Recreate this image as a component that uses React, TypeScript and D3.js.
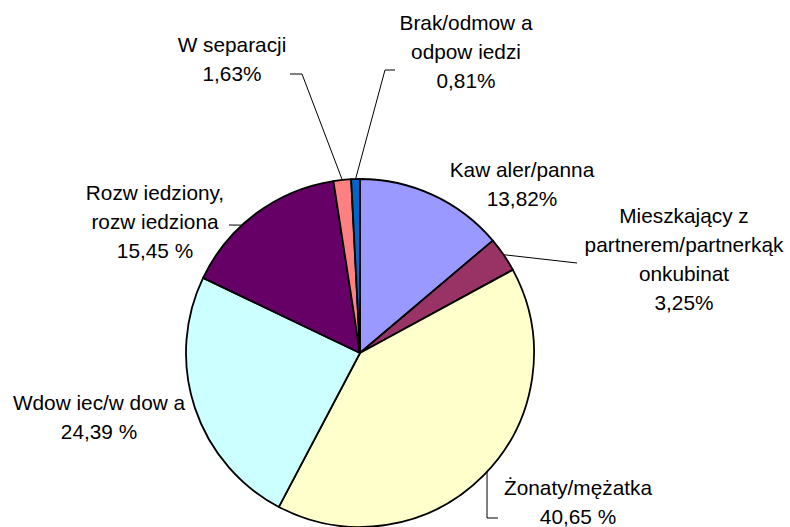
import React from 'react';
import * as d3 from 'd3';

const width = 790;
const height = 527;

// data ================================================
const categories = [
  'Kawaler/panna',
  'Mieszkający z partnerem/partnerką konkubinat',
  'Żonaty/mężatka',
  'Wdowiec/wdowa',
  'Rozwiedziony, rozwiedziona',
  'W separacji',
  'Brak/odmowa odpowiedzi'
];
const values = [13.82, 3.25, 40.65, 24.39, 15.45, 1.63, 0.81];
const colors = ['#9999FF', '#993366', '#FFFFCC', '#CCFFFF', '#660066', '#FF8080', '#0066CC'];
// label text as shown on the picture
const labelLines = [
  ['Kaw aler/panna', '13,82%'],
  ['Mieszkający z', 'partnerem/partnerkąk', 'onkubinat', '3,25%'],
  ['Żonaty/mężatka', '40,65 %'],
  ['Wdow iec/w dow a', '24,39 %'],
  ['Rozw iedziony,', 'rozw iedziona', '15,45 %'],
  ['W separacji', '1,63%'],
  ['Brak/odmow a', 'odpow iedzi', '0,81%']
];

// layout ==============================================
const cx = 360;
const cy = 353;
const radius = 174;
const lineHeight = 29;

// first baseline of each label (centred)
const labelPos: [number, number][] = [
  [522, 177],
  [684, 223],
  [578, 495],
  [99, 410],
  [155, 200],
  [232, 52],
  [466, 30]
];

// leader lines: where they touch the pie (degrees, null = slice middle) and the bends after it
const leaders: ({ angle: number | null; points: [number, number][] } | null)[] = [
  null,
  { angle: null, points: [[577, 263]] },
  { angle: 133.1, points: [[487, 518], [498, 518]] },
  null,
  { angle: 317.3, points: [[229, 225]] },
  { angle: null, points: [[302, 74], [290, 74]] },
  { angle: null, points: [[385, 70], [395, 70]] }
];

const App = () => {
  const pie = d3.pie<number>().sort(null).value(d => d);
  const arcs = pie(values);
  const arc = d3.arc<d3.PieArcDatum<number>>().innerRadius(0).outerRadius(radius);
  const line = d3.line();

  const edgePoint = (deg: number): [number, number] => {
    const a = (deg * Math.PI) / 180;
    return [cx + radius * Math.sin(a), cy - radius * Math.cos(a)];
  };

  return (
    <svg
      width={width}
      height={height}
      style={{ position: 'absolute', left: 0, top: 0, background: '#fff' }}
      fontFamily="'Liberation Sans', Arial, sans-serif"
      fontSize={20.8}
    >
      <g transform={`translate(${cx},${cy})`}>
        {arcs.map((a, i) => (
          <path
            key={categories[i]}
            d={arc(a) || ''}
            fill={colors[i]}
            stroke="#000"
            strokeWidth={1.8}
            strokeLinejoin="round"
          />
        ))}
      </g>
      {leaders.map((l, i) => {
        if (!l) return null;
        const a = arcs[i];
        const deg = l.angle !== null ? l.angle : (((a.startAngle + a.endAngle) / 2) * 180) / Math.PI;
        const pts: [number, number][] = [edgePoint(deg), ...l.points];
        return <path key={'l' + i} d={line(pts) || ''} fill="none" stroke="#000" strokeWidth={1} />;
      })}
      {labelLines.map((lines, i) => (
        <text key={'t' + i} x={labelPos[i][0]} y={labelPos[i][1]} textAnchor="middle" fill="#000">
          {lines.map((s, j) => (
            <tspan key={j} x={labelPos[i][0]} y={labelPos[i][1] + j * lineHeight}>
              {s}
            </tspan>
          ))}
        </text>
      ))}
    </svg>
  );
};

export default App;
